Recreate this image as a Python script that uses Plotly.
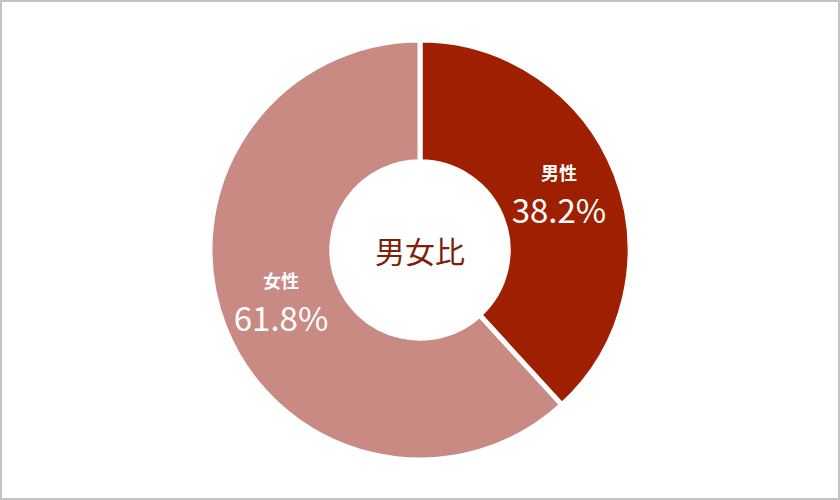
import plotly.graph_objects as go

labels = ["男性", "女性"]
values = [38.2, 61.8]
colors = ["#9e2000", "#c98a84"]
center_title = "男女比"

font = "Noto Sans CJK JP, Noto Sans, sans-serif"

texts = [f"<span style='font-size:18px'><b>{l}</b></span><br>{v:.1f}%" for l, v in zip(labels, values)]

fig = go.Figure(go.Pie(
    labels=labels,
    values=values,
    text=texts,
    textinfo="text",
    textposition="inside",
    insidetextorientation="horizontal",
    hole=0.42,
    sort=False,
    direction="clockwise",
    rotation=0,
    marker=dict(colors=colors, line=dict(color="white", width=5)),
    textfont=dict(family=font, size=33, color="white"),
    domain=dict(x=[0, 1], y=[0.08, 0.92]),
    hoverinfo="skip",
    showlegend=False,
))

fig.add_annotation(
    text=center_title, x=0.5, y=0.5, xref="paper", yref="paper",
    showarrow=False, font=dict(family=font, size=30, color="#7e1f0a"),
)

fig.add_shape(type="rect", xref="paper", yref="paper", x0=0, y0=0, x1=1, y1=1,
              line=dict(color="#c4c4c4", width=4))

fig.update_layout(
    width=840, height=500,
    margin=dict(l=0, r=0, t=0, b=0),
    paper_bgcolor="white", plot_bgcolor="white",
    uniformtext=dict(minsize=33, mode="show"),
)

fig.write_html(
    "out.html",
    config={"displayModeBar": False},
    post_script="document.body.style.margin='0';document.body.style.overflow='hidden';",
)
